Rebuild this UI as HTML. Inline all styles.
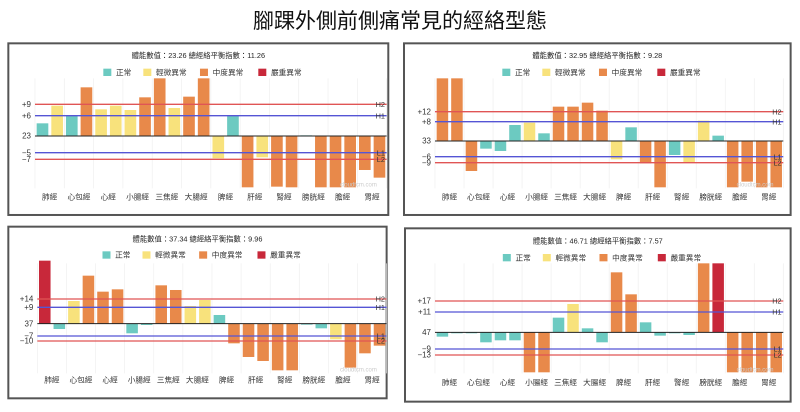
<!DOCTYPE html>
<html><head><meta charset="utf-8"><style>
html,body{margin:0;padding:0;background:#fff;width:800px;height:412px;overflow:hidden}
svg{display:block;font-family:"Liberation Sans","Noto Sans CJK TC",sans-serif}
</style></head><body>
<svg id="s" width="800" height="412" viewBox="0 0 800 412" xmlns="http://www.w3.org/2000/svg">
<text x="400" y="28" font-size="21" text-anchor="middle" fill="#111">腳踝外側前側痛常見的經絡型態</text>
</svg>
<script>
var C={t:"#6ccac1",y:"#f8e27c",o:"#e8894a",r:"#c8283a"};
var cats=["肺經","心包經","心經","小腸經","三焦經","大腸經","脾經","肝經","腎經","膀胱經","膽經","胃經"];
var P=[
{ox:0,oy:40,bx:[25,1165],by:[10,525],px:[105,1160],base:288,h2:193,h1:227,l1:338,l2:358,lab:["+9","+6","23","−5","−7"],title:"體能數值：23.26 總經絡平衡指數：11.26",ty:47,ly:97,cy:470,
bars:"t250 y197 t228 o142 y208 y197 y210 o172 o115 y204 o170 o115 y355 t228 o442 y352 o440 o442 t286 o442 o442 o442 o390 o413"},
{ox:400,oy:40,bx:[12,1172],by:[10,525],px:[105,1150],base:303,h2:215,h1:245,l1:350,l2:368,lab:["+12","+8","33","−6","−9"],title:"體能數值：32.95 總經絡平衡指數：9.28",ty:47,ly:97,cy:470,
bars:"o115 o115 o393 t326 t333 t255 y248 t280 o200 o200 o188 o212 y358 t262 o370 o442 t345 y368 y242 t287 o442 o425 o442 o442"},
{ox:0,oy:225,bx:[25,1160],by:[5,520],px:[112,1160],base:296,h2:222,h1:247,l1:333,l2:348,lab:["+14","+9","37","−7","−10"],title:"體能數值：37.34 總經絡平衡指數：9.96",ty:42,ly:90,cy:465,
bars:"r107 t312 y228 o152 o200 o193 t325 t300 o181 o195 y243 y225 t270 o355 o396 o408 o436 o436 t298 t310 y343 o428 o385 o362"},
{ox:400,oy:225,bx:[15,1172],by:[10,530],px:[105,1150],base:322,h2:228,h1:261,l1:372,l2:390,lab:["+17","+11","47","−9","−13"],title:"體能數值：46.71 總經絡平衡指數：7.57",ty:48,ly:98,cy:472,
bars:"t335 t324 t325 t352 t346 t346 o442 o442 t278 y237 t310 t352 o142 o208 t292 t332 t325 t330 o115 r115 o442 o442 o442 o442"}
];
var h='';
P.forEach(function(p){
 h+='<g transform="translate('+p.ox+','+p.oy+') scale(0.3333)">';
 h+='<rect x="'+p.bx[0]+'" y="'+p.by[0]+'" width="'+(p.bx[1]-p.bx[0])+'" height="'+(p.by[1]-p.by[0])+'" fill="#fff" stroke="#555" stroke-width="6"/>';
 var x0=p.px[0],x1=p.px[1],gw=(x1-x0)/12;
 for(var i=0;i<=12;i++){h+='<line x1="'+(x0+i*gw)+'" x2="'+(x0+i*gw)+'" y1="115" y2="445" stroke="#eee" stroke-width="2"/>';}
 var b=p.bars.split(' ');
 b.forEach(function(s,i){var c=C[s[0]],v=+s.slice(1);var g=Math.floor(i/2),k=i%2;var x=x0+g*gw+5+k*(gw/2);var w=gw/2-9;
  var y=Math.min(v,p.base),hh=Math.abs(v-p.base);if(hh<3)hh=3;
  h+='<rect x="'+x+'" y="'+y+'" width="'+w+'" height="'+hh+'" fill="'+c+'"/>';});
 h+='<line x1="'+x0+'" x2="'+x1+'" y1="'+p.base+'" y2="'+p.base+'" stroke="#222" stroke-width="3"/>';
 [[p.h2,"#e05555","H2"],[p.h1,"#5555d5","H1"],[p.l1,"#5555d5","L1"],[p.l2,"#e05555","L2"]].forEach(function(l){
  h+='<line x1="'+x0+'" x2="'+x1+'" y1="'+l[0]+'" y2="'+l[0]+'" stroke="'+l[1]+'" stroke-width="4"/>';
  h+='<text x="'+(x1-5)+'" y="'+(l[0]+8)+'" font-size="22" text-anchor="end" fill="#333">'+l[2]+'</text>';});
 var ys=[p.h2,p.h1,p.base,p.l1,p.l2];
 ys.forEach(function(y,i){h+='<text x="'+(x0-12)+'" y="'+(y+8)+'" font-size="24" text-anchor="end" fill="#333">'+p.lab[i]+'</text>';});
 var cx=(p.bx[0]+p.bx[1])/2;
 h+='<text x="'+cx+'" y="'+(p.ty+7)+'" font-size="22" text-anchor="middle" fill="#222">'+p.title+'</text>';
 var lg=[["t","正常"],["y","輕微異常"],["o","中度異常"],["r","嚴重異常"]];
 var lx=cx-285;var off=[0,120,290,465];
 lg.forEach(function(l,i){var x=lx+off[i];h+='<rect x="'+x+'" y="'+(p.ly-11)+'" width="24" height="22" fill="'+C[l[0]]+'"/><text x="'+(x+38)+'" y="'+(p.ly+8)+'" font-size="23" fill="#333">'+l[1]+'</text>';});
 cats.forEach(function(c,i){h+='<text x="'+(x0+(i+0.5)*gw)+'" y="'+(p.cy+8)+'" font-size="23" text-anchor="middle" fill="#333">'+c+'</text>';});
 h+='<text x="'+(x1-140)+'" y="440" font-size="18" fill="#ccc">cloudtcm.com</text>';
 h+='</g>';
});
document.getElementById('s').insertAdjacentHTML('beforeend',h);
</script>
</body></html>
